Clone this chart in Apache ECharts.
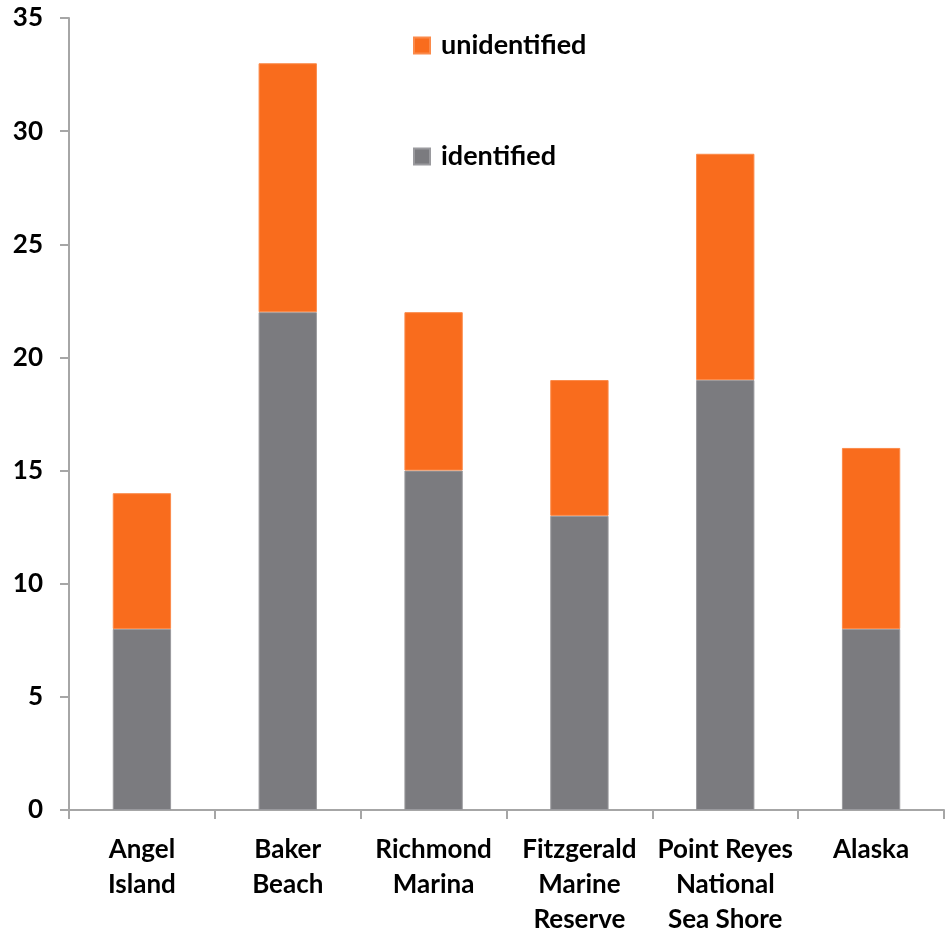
<!DOCTYPE html>
<html>
<head>
<meta charset="utf-8">
<script src="https://cdn.jsdelivr.net/npm/echarts@6/dist/echarts.min.js"></script>
<style>
  html, body { margin: 0; padding: 0; background: #fff; }
  #chart { width: 946px; height: 937px; }
</style>
</head>
<body>
<div id="chart"></div>
<script>
// sites along the x axis
const sites = [
  'Angel\nIsland',
  'Baker\nBeach',
  'Richmond\nMarina',
  'Fitzgerald\nMarine\nReserve',
  'Point Reyes\nNational\nSea Shore',
  'Alaska'
];
const identified = [8, 22, 15, 13, 19, 8];
const unidentified = [6, 11, 7, 6, 10, 8];

const FONT = 'Lato, "Open Sans", sans-serif';
const axisGrey = '#a6a6a6';

const chart = echarts.init(document.getElementById('chart'));

chart.setOption({
  animation: false,
  backgroundColor: '#fff',
  textStyle: { fontFamily: FONT },
  grid: { left: 69, right: 2, top: 18, bottom: 119, containLabel: false },
  legend: {
    orient: 'vertical',
    left: 413,
    top: 32,
    padding: 0,
    itemWidth: 16,
    itemHeight: 16,
    itemGap: 84,
    icon: 'rect',
    data: ['unidentified', 'identified'],
    textStyle: {
      fontFamily: FONT,
      fontSize: 27,
      fontWeight: 'bold',
      color: '#000',
      padding: [0, 0, 0, 6]
    }
  },
  xAxis: {
    type: 'category',
    data: sites,
    axisLine: { lineStyle: { color: axisGrey, width: 2 } },
    axisTick: { show: true, length: 9, lineStyle: { color: axisGrey, width: 2 } },
    axisLabel: {
      interval: 0,
      margin: 22,
      color: '#000',
      fontFamily: FONT,
      fontSize: 26,
      fontWeight: 'bold',
      lineHeight: 35
    }
  },
  yAxis: {
    type: 'value',
    min: 0,
    max: 35,
    interval: 5,
    splitLine: { show: false },
    axisLine: { show: true, lineStyle: { color: axisGrey, width: 2 } },
    axisTick: { show: true, length: 9, lineStyle: { color: axisGrey, width: 2 } },
    axisLabel: {
      margin: 26,
      color: '#000',
      fontFamily: FONT,
      fontSize: 26,
      fontWeight: 'bold'
    }
  },
  series: [
    {
      name: 'identified',
      type: 'bar',
      stack: 'total',
      barWidth: '40%',
      data: identified,
      itemStyle: { color: '#7b7b7f', borderColor: '#9a9a9e', borderWidth: 1 }
    },
    {
      name: 'unidentified',
      type: 'bar',
      stack: 'total',
      barWidth: '40%',
      data: unidentified,
      itemStyle: { color: '#f96c1d', borderColor: '#fb8a4a', borderWidth: 1 }
    }
  ]
});

window.addEventListener('resize', () => chart.resize());
</script>
</body>
</html>
